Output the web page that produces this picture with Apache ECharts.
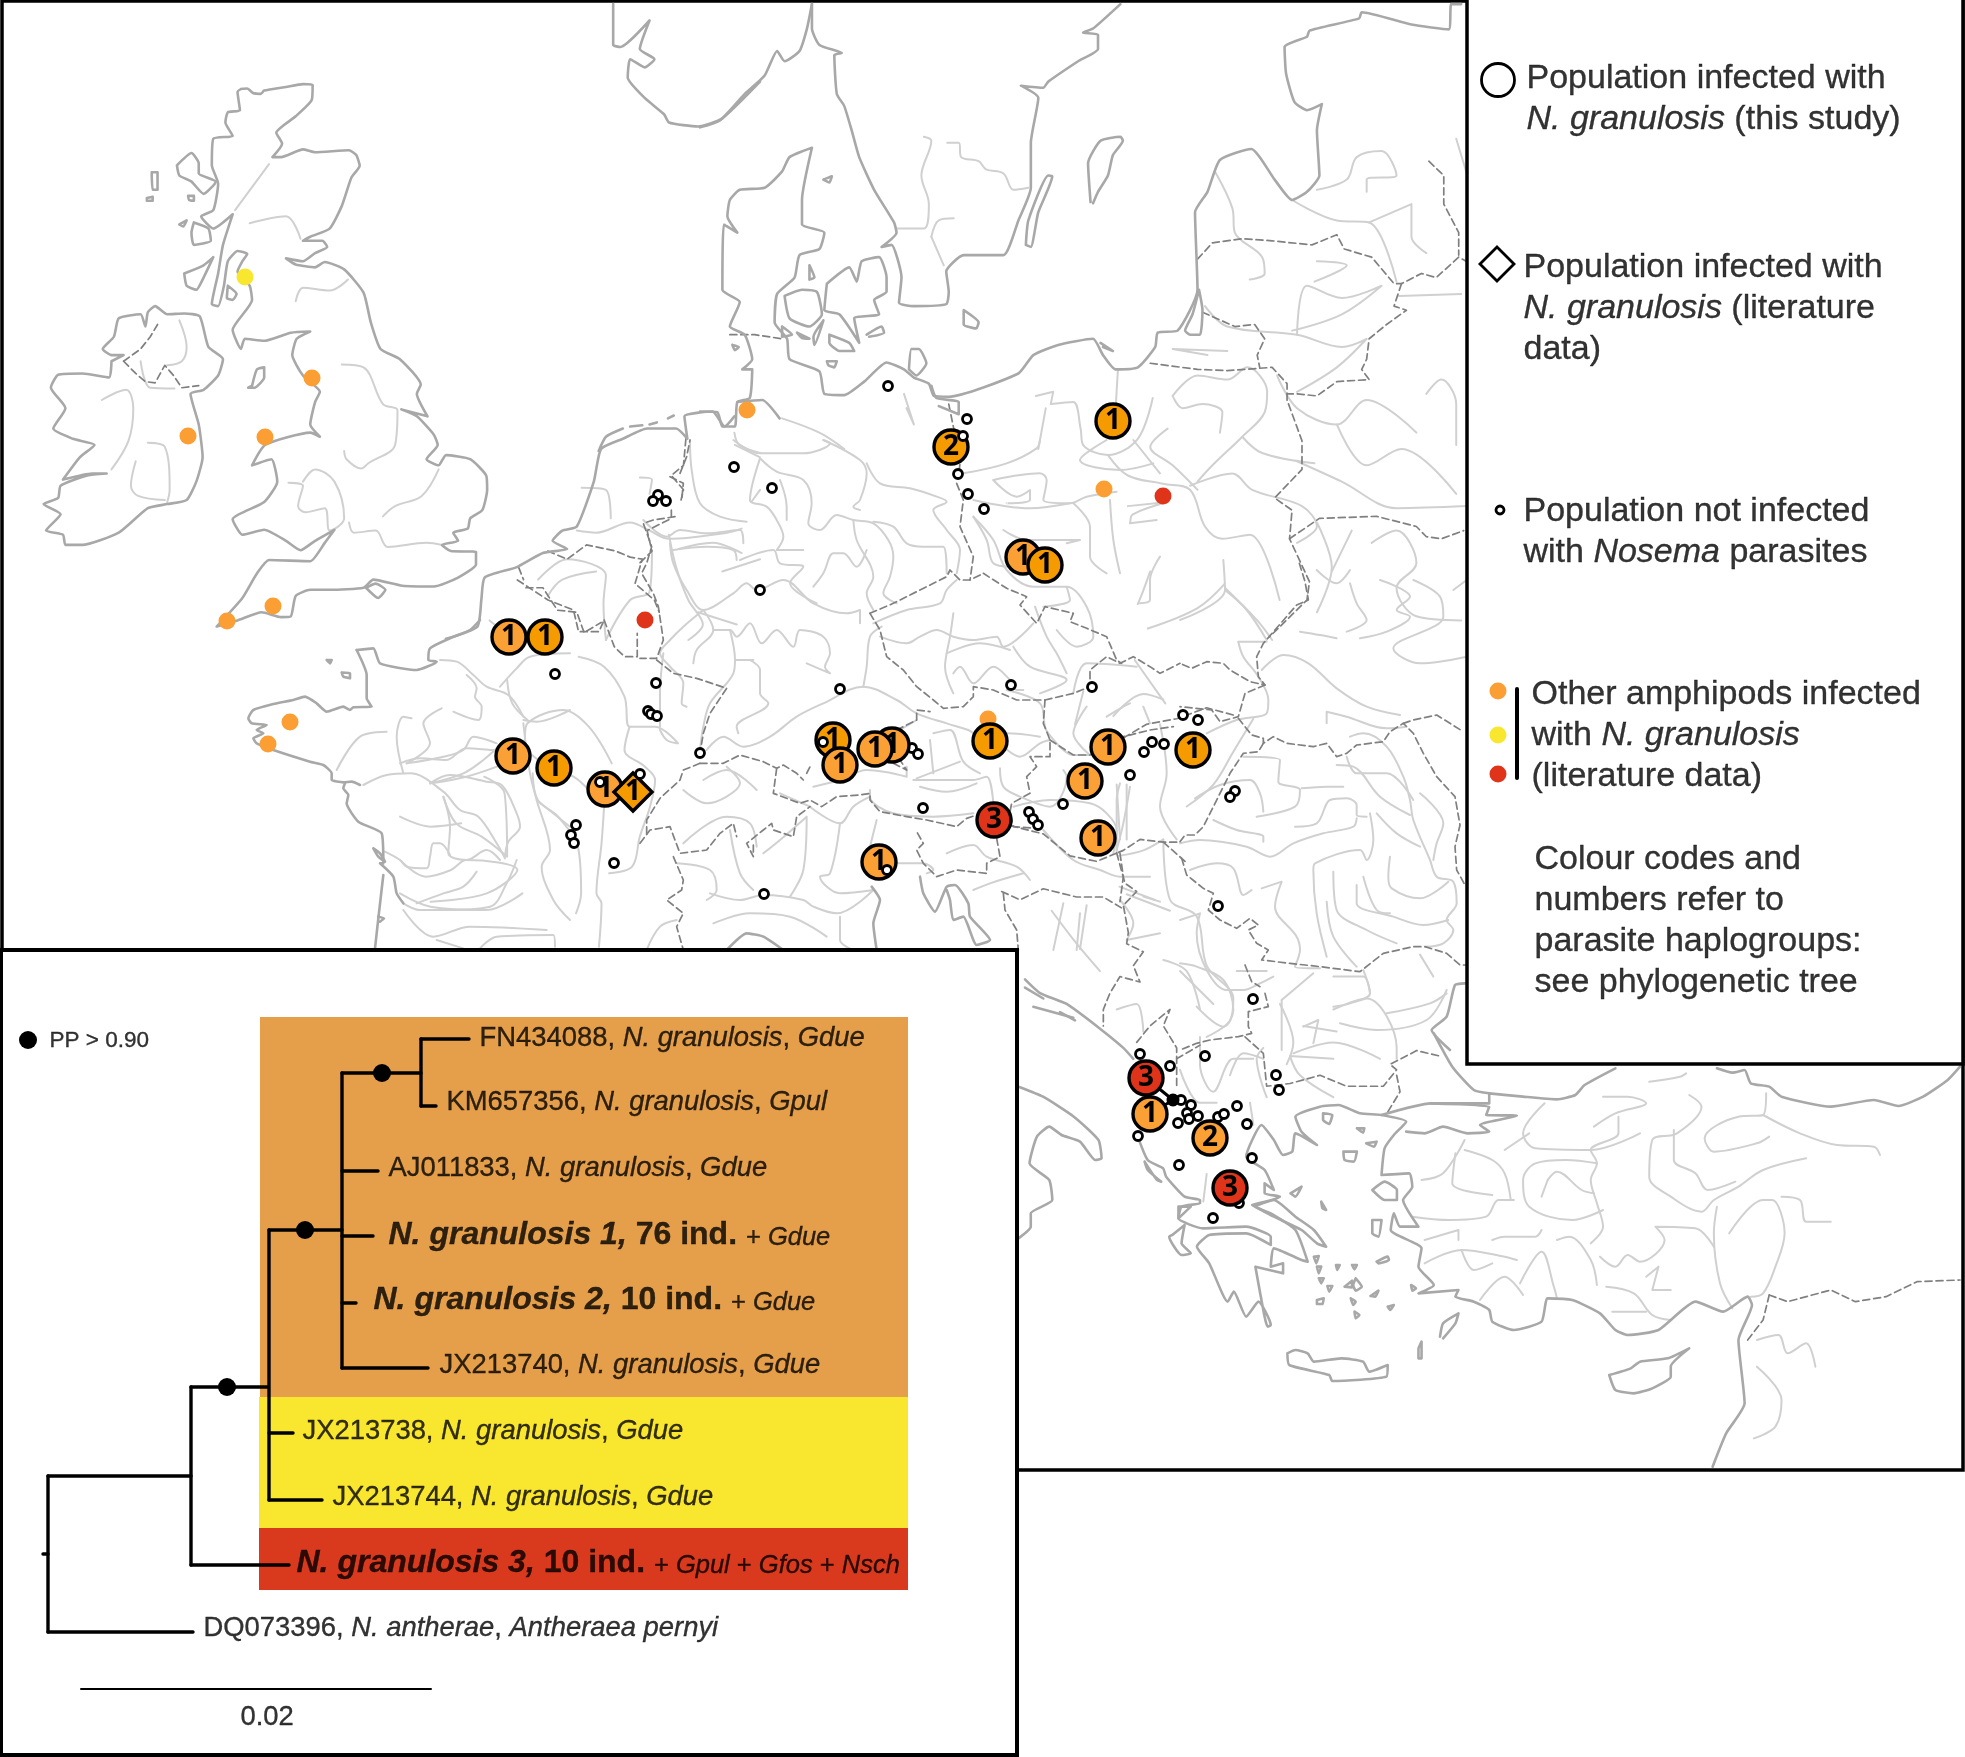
<!DOCTYPE html>
<html><head><meta charset="utf-8"><style>html,body{margin:0;padding:0;background:#fff}#c{width:1965px;height:1757px}</style>
<script src="https://cdn.jsdelivr.net/npm/echarts@6/dist/echarts.min.js"></script></head><body><div id="c"></div>
<script>
// Survey sheets: each traced group is read on a sheet with its own origin and scale to map units.
const A=[0,0,2.063,2.45],B=[700,0,2.01,2.45],C=[400,560,1.96,3],D=[1000,620,3,1.823],E=[1000,1000,1.625,3],F=[230,620,3,3],G=[1180,560,3,3],H=[640,440,3,3];

const coastBritainIreland=[
[497,218,510,217,522,228,538,230,545,222,590,213,625,206,645,208,643,245,610,285,570,325,582,352,562,385,580,385,625,366,650,373,720,368,735,380,742,406,725,435,705,505,680,560,640,580,625,590,665,590,675,605,650,620,625,640,590,633,610,648,650,655,670,642,710,660,750,717,765,790,785,855,825,880,868,942,860,965,882,1020,828,1003,860,1020,895,1065,903,1090,880,1125,905,1140,920,1115,970,1125,1003,1165,1005,1200,995,1250,970,1270,965,1295,935,1305,945,1325,912,1335,930,1350,982,1352,982,1383,945,1415,895,1437,830,1435,770,1420,750,1440,680,1445,640,1445,610,1460,600,1510,580,1512,540,1500,490,1520,447,1535,500,1465,530,1405,555,1372,640,1375,670,1330,690,1298,650,1325,620,1348,590,1325,545,1298,500,1310,480,1272,545,1230,572,1180,560,1125,520,1140,547,1090,640,1060,660,1070,640,1040,650,985,660,960,625,920,603,870,612,830,640,812,600,815,545,835,505,830,497,855,480,808,520,735,515,700,490,665,500,640,510,622,490,615,470,640,462,700,450,750,437,745,450,670,460,600,480,525,440,560,415,530,440,515,450,450,437,405,440,340,480,333,465,300,470,275,495,270,490,225,497,218],
[380,670,420,650,440,630,420,680,405,710,385,700,380,670],[400,545,430,560,435,590,400,600,395,570,400,545],[365,405,395,375,410,400,410,425,445,445,420,475,395,445,370,430,365,405],[313,422,325,422,325,465,315,465,313,422],[303,485,315,482,315,492,303,492,303,485],[388,480,400,480,400,492,390,490,388,480],[470,700,488,720,480,735,468,730,470,700],[520,945,530,905,545,900,545,925,525,950,512,950,520,945],[370,550,385,540,378,555,370,550],
[230,885,255,870,230,870,212,855,235,825,245,780,290,770,300,800,305,765,320,750,345,770,380,768,412,775,430,850,460,880,450,920,420,955,393,965,410,1040,418,1120,405,1180,385,1225,345,1235,305,1245,245,1305,170,1335,135,1335,130,1310,95,1300,125,1260,90,1235,120,1220,125,1190,180,1165,220,1160,190,1160,130,1175,165,1120,195,1090,150,1075,110,1050,135,1000,105,950,120,918,170,915,225,925,230,885],
[755,1440,775,1430,795,1445,780,1465,755,1440],
[1265,10,1265,110,1280,115,1340,50,1320,120,1350,145,1330,165,1300,145,1295,190,1330,240,1370,280,1380,300,1440,310,1490,290,1568,200]];
const coastLowCountries=[
[920,1565,985,1535,993,1470,1000,1415,1065,1390,1120,1355,1170,1345,1140,1325,1160,1300,1190,1290,1225,1180,1240,1100,1285,1075,1335,1050,1395,1050,1418,1075,1412,1020,1470,1008,1495,1045,1515,1020],
[1235,1105,1250,1070,1285,1050],[1300,1045,1325,1042],[1340,1040,1355,1035],[1378,1025,1390,1018]];
const coastNorth=[
[0,1008,35,1010,45,1045,70,1045,75,985,100,975,105,905,85,905,105,880,90,820,60,800,80,740,45,710,48,550,75,570,55,530,60,490,80,465,130,460,165,420,180,385,225,362,205,490,205,550,250,570,240,610,200,625,190,680,155,720,150,790,175,830,180,880,240,910,250,965,290,968,330,935,375,888,410,905,430,925,460,940,470,970,500,972,640,915,670,870,720,845,790,830,810,870,835,905,880,900,915,850,920,815,960,810,1000,710,995,520,1020,470,1045,392,1108,365,1155,440,1190,490,1220,470,1245,430,1240,320,1250,255,1220,270,1195,250,1178,180,1175,115,1220,90,1225,75,1325,45,1330,30,1430,60,1505,72,1510,10,1530,10],
[75,985,125,980,160,1025],[1003,710,990,770,975,810,985,820,1005,820,1010,760,1003,710],[805,840,830,860,810,850],[420,905,425,855,440,855,455,890,435,920,420,905],[465,945,475,975,520,985,520,1015,480,995],
[225,10,225,70,240,110,285,130,270,135,275,230,290,260,305,320,320,385,350,465,390,545,395,570,365,605,385,600,405,680,400,742,430,750,495,745,500,715,495,665,530,625,610,625,640,540,665,460,665,350,680,240,645,210,690,215,700,200,760,150,800,120,800,85,770,80,790,70,845,10],
[0,312,40,295,90,230,130,185,155,125,170,150,200,125,215,70,225,10],
[255,695,300,655,315,690,325,640,360,630,375,680,375,715,350,735,360,770,310,780,320,840,280,770,250,760,255,695],[170,725,205,710,235,715,245,770,220,800,180,780,170,725],[260,820,300,840,310,860,280,860,260,840,260,820],[165,800,185,820,165,825,165,800],[195,815,220,830,205,828,195,815],[248,785,230,845,228,825,248,785],[335,820,365,800,370,815,340,825],[255,885,275,885,270,900,258,895,255,885],
[530,760,560,790,555,805,530,795,530,760],[655,600,660,540,700,430,708,432,680,520,665,605,655,600],[785,495,780,400,805,345,845,335,850,345,830,380,820,430,800,470,790,498],[248,440,265,432,260,447,248,440],[220,650,230,680,220,685,220,650],[65,845,78,850,70,858,65,845]];
const coastFrance=[
[380,90,430,85,450,130,560,150,620,125,595,120,600,85,660,55,720,30,750,0],
[380,90,410,165,410,235,425,260,370,262,360,270,340,260,290,275,260,250,225,230,190,240,130,252,70,270,55,295,65,310,110,315,80,330,100,340,70,355,80,370,130,390,240,425,280,435,305,460,305,480,340,487,365,485,390,495],
[345,490,340,505,355,525,350,550,385,605,455,640,460,730,450,730,490,770,500,820,520,850],[460,765,445,895,435,985],[430,685,450,700,465,725,445,710,430,685],[290,120,305,120,300,130,290,120],[335,158,360,160,360,175,340,170,335,158],[445,890,462,895,450,905]];
const coastCentralAdriatic=[[840,1310,850,1360,885,1415,920,1340,945,1335,985,1390,990,1430,1050,1500,1010,1515,970,1430,940,1440,930,1380,920,1350],[695,1340,720,1380,700,1450,710,1530],[260,1530,320,1480,370,1490,430,1530]];
const coastBalkan=[[75,655,120,680,200,700,300,745,370,780,400,800],[75,670,130,690],[100,705,220,725],[180,715,225,730]];
const coastAegeanTurkey=[
[222,400,240,480,265,505,270,530,300,590,325,600,325,610,295,620,290,655,330,685,400,680,440,710,440,735,400,700,340,705,320,740,340,790,370,905,380,875,400,950,420,905,440,975,435,980,430,950,415,800,460,820,460,790,440,800,445,745,490,780,500,785,480,690,440,640,415,620,455,590,430,580,430,550,445,570,430,510,400,470,425,375,445,420,460,465,475,455,480,400,515,435,490,395,480,350,520,320,550,315,585,340,620,345,660,365,640,405,625,445,620,525,665,520,670,560,655,600,680,680,650,680,640,640,635,690,685,745,680,800,705,855,680,880,745,870,740,890,770,905,795,930,800,965,835,990,880,965,890,895,930,900,975,940,1000,990,1020,1005,1070,990,1130,905,1175,935,1215,890,1222,915,1200,1020,1210,1210,1180,1300,1158,1400],
[620,345,700,310,795,310,795,280,850,290,905,298,935,285,950,255,1000,205],[705,100,735,200,770,270,795,280],[1165,205,1190,218,1210,210,1220,250,1250,260,1270,290,1350,320,1420,300,1460,318,1500,290,1540,240,1560,200],
[660,395,690,400,720,380,760,400,795,395,780,375,840,347,790,345,795,320,700,310],
[990,1125,1025,1105,1040,1085,1085,1075,1120,1045,1090,1100,1090,1130,1060,1165,1030,1180,1000,1170,990,1125],[467,1060,480,1050,500,1060,510,1085,555,1075,590,1085,600,1115,630,1095,628,1130,540,1143,535,1125,470,1095,467,1060],[715,1010,720,970,745,940,740,970,720,1015],[680,1045,685,1025,685,1075,680,1075,680,1045],[605,570,625,545,645,570,645,600,625,600,605,570],[605,660,620,660,615,710,605,700,605,660],[612,785,630,770,632,780,615,790,612,785],[410,615,445,600,480,650,510,690,530,740,515,730,490,690,445,650,410,615],
[30,260,70,290,120,350,160,420,165,475,155,480,130,425,100,405,80,380,60,410,48,490,80,540,85,600,50,640,50,680,30,715],
[235,485,255,540,262,545,240,510,235,485],[290,620,310,620,290,655,290,620],[280,705,300,675,295,730,310,760,295,765,275,710,280,705],
[525,340,540,345,535,372,525,360,525,340],[580,385,592,385,590,398,580,385],[595,430,612,425,608,440,595,430],[558,455,580,455,575,485,560,480,558,455],[472,580,490,560,480,590,472,580],[522,605,530,630,524,625,522,605],
[510,770,518,768,514,790,510,770],[515,800,522,800,518,820,515,800],[546,795,552,795,548,810,546,795],[572,795,580,795,576,808,572,795],[518,835,526,835,522,850,518,835],[532,858,540,858,535,875,532,858],[560,860,572,842,572,862,560,860],[578,835,588,860,578,872,574,855,578,835],[602,888,615,872,610,890,602,888],[515,900,526,895,524,912,515,912,515,900],[570,895,578,905,574,915,570,895],[576,935,584,945,578,955,576,935],[630,920,640,915,634,930,630,920],[668,855,676,865,670,872,668,855]];
const coastBlackSea=[[855,1270,825,1275,800,1370,755,1410,810,1470]];

const riversA=[[555,402,485,515],[515,547,590,530,620,585],[610,738,625,705,680,712,718,685],[705,893,750,900,790,990,820,1005,815,1090,760,1135,745,1148,715,1125,710,1105],[905,1150,870,1215,815,1240,790,1265],[595,1183,625,1190,615,1240,630,1255,670,1245,680,1300,710,1270,690,1180,650,1150,625,1180],[720,1280,730,1305,775,1300,800,1340,880,1330,912,1335],[210,980,260,955,275,1000,265,1080,230,1150],[305,1085,340,1095,350,1200,345,1230],[280,1130,270,1190,285,1215,340,1225],[370,785,385,850,375,885,345,895],[290,885,310,950,360,952],
[1190,1300,1230,1305,1300,1280,1340,1300,1380,1320,1500,1305,1530,1295],[1200,1195,1250,1200,1260,1270],[1320,1170,1345,1175,1340,1210],[1380,1310,1395,1390,1420,1470,1450,1530,1420,1568],[1400,1345,1470,1330,1530,1355],[1110,1420,1170,1370,1250,1410,1245,1480,1250,1568],[1010,1520,1050,1560],[1130,1460,1160,1420,1230,1400],[1515,1060,1525,1090,1568,1110],[1550,1230,1568,1200],[1490,1400,1568,1370],[1440,1500,1520,1530],[1250,1568,1300,1470,1340,1450,1345,1350]];
const riversB=[[165,1025,240,1060,290,1100],[70,1090,120,1120],[410,965,430,1040,415,1000],
[675,970,710,960,705,990,750,985,765,1050,770,1090,820,1115,880,1075,910,975],[695,1000,680,1100],[840,905,835,1010],[820,1115,860,1165,930,1185,985,1200,1015,1290,1050,1320,1105,1310,1165,1470],[985,1190,1070,1160,1110,1200,1210,1240,1240,1290,1200,1330],[860,1240,940,1230,870,1260,865,1280],[940,1050,905,1095,950,1140,1000,1200],[1055,1430,1000,1490,900,1540],[1055,1440,1120,1520,1150,1568],[905,1400,890,1450,880,1480],[950,970,1000,920,1060,930,1100,900,1140,960,1135,1010,1090,1070,1030,1140,1000,1180],[950,970,970,1000,1010,990,1050,1010,1045,1060],[1020,870,950,855,1060,860],[1090,1070,1130,1110,1235,1135],[1160,920,1200,1000,1280,1040,1340,980,1440,1060],[1280,1040,1340,1140,1410,1100,1520,1210],[1200,1130,1290,1180,1400,1245,1540,1240],[1240,1280,1270,1390,1240,1500],[1310,1300,1270,1400],[1350,1330,1400,1300,1440,1380,1400,1440,1440,1510,1530,1520],[1460,965,1490,930,1520,990,1520,1090],[1015,750,1060,800,1200,820,1290,850,1340,830,1280,900,1200,960],[1200,820,1220,700,1290,730,1370,700,1290,770,1190,810],[1240,640,1300,650,1235,690],[1405,725,1530,720],[1190,490,1280,540,1345,545,1400,690],[1520,340,1540,420],
[450,335,465,345,445,430,460,500,450,560,395,560],[497,350,520,350,525,385,560,395,575,415,610,425,630,465,660,460],[465,580,480,540,510,535],[465,580,490,650],[1035,420,1070,510,1075,570,1130,630,1135,670,1105,685],[1345,545,1430,500,1430,580,1460,620],[1240,465,1300,440,1320,385,1370,370,1400,430,1340,440,1340,470]];
const riversC=[[0,610,40,595,90,600,130,565,190,570,240,560,250,490,320,450,370,500,415,610],[60,670,130,650,190,620],[240,560,290,620,340,650,370,690],[350,290,400,320,440,410,450,500,500,500,545,550],[210,360,220,430,250,480],[400,740,395,850,385,1000,395,1030,390,1160],[450,500,440,570,480,620,500,660,490,740,470,830,455,920,410,940],[85,710,110,790,160,830,210,890,205,700,165,650],[260,640,270,720,310,770,350,870,355,1000,345,1060],[0,900,50,950,100,930,130,900,230,930,170,1000,60,1025],[0,1000,60,1040,170,1050,240,1000],[0,770,60,800,120,790],[1410,980,1480,1020],[1440,300,1500,430]];
const riversD=[[225,190,250,130],[340,175,430,135,490,145],[490,400,510,510,590,540,620,630,700,690,690,730,620,760],[355,430,430,420,490,400],[380,500,510,530],[155,530,230,590,300,640],[260,520,240,600],[490,620,560,640,600,710],[540,640,640,700],[350,710,410,700,430,750],[600,760,600,810,640,860,700,800,760,800],[710,640,800,640],[840,700,880,770,860,810],[1000,710,1100,690,1190,780,1190,800],[880,790,1000,770,1140,800],[1000,800,870,795,900,830,1000,870],[910,740,1010,750],[1260,610,1300,650],[1000,650,1090,650,1110,680],[540,820,600,880,650,880],[690,830,730,790,790,800],[610,1060,620,1010],[750,880,760,920],[800,870,770,800,790,780],[480,190,500,280,480,340,530,400],[350,300,360,400],[380,300,380,400],[560,340,640,300,700,240,760,180]];
const riversE=[[755,420,720,520,685,540],[755,450,800,480,820,520,830,600],[740,460,735,550,800,585],[860,400,820,450],[885,310,850,400,870,445,960,450,1040,400],[965,380,1000,340,1050,310,1020,290,980,290],[1005,350,1005,400,960,450,970,490,960,540,970,610,980,680,960,730],[970,490,920,480,870,490,850,540,860,620,930,660,980,630],[890,540,905,515,945,570,965,580],[890,540,880,590],[1115,220,1105,230,1055,245],[1120,285,1140,320,1100,400,1060,420,1055,530,1090,590,1140,635,1160,600,1200,560,1240,510,1310,475],[1245,280,1240,345,1200,350,1145,415,1160,455,1230,430,1250,410],[1240,345,1300,400,1360,435,1420,440,1430,465],[1095,390,1095,480,1130,520,1150,570,1195,545],[670,650,730,660,790,650,810,600,835,600],[690,720,745,690,745,720],[690,790,750,750,820,770,840,780],[750,750,770,810,800,790],[800,720,820,710,870,710,880,690],[780,900,820,830,850,885],[845,850,880,755,900,860,905,895],[905,720,925,710,960,780,970,855],[985,860,1030,880,1060,945,1090,960],[995,935,1050,935],[975,770,1000,800,1020,765,1040,785,1080,720,1065,680,1130,685,1160,740],[1050,830,1070,800,1060,870,1090,870],[1165,620,1160,700,1170,850,1190,925],[1185,700,1240,600,1255,600,1275,700,1260,800,1240,880,1220,890],[1270,590,1300,600,1310,665,1350,665],[1230,1020,1265,1005,1280,1060,1310,1030,1325,1100],[1230,1100,1270,1200,1260,1280,1225,1315]];
const riversF=[[400,495,470,465,540,460,640,515,690,570,745,590,800,670,825,715],[600,490,660,465,770,485,815,495,860,580,870,620,835,665,825,710],[640,530,660,620,655,700,710,720,770,690,810,720],[465,695,510,720,530,740,590,745,600,710,610,670,630,670,660,705],[320,450,390,350,470,335],[520,460,500,350,520,290,545,295],[530,430,600,370,580,310,635,265],[530,430,640,410,700,390,730,350,800,370],[600,490,700,460,760,420,800,385],[670,275,745,300,755,260,735,230,740,205,710,165],[880,310,900,460,920,540,960,690,935,740,970,840,1020,900],[880,300,920,305,1020,270],[920,540,1020,620],[520,850,570,870,640,870,780,860,830,790,860,720],[560,850,640,820,700,800,740,755],[520,870,610,950,720,920,950,930],[620,960,700,985],[750,985,800,950,970,945,975,980],[630,120,680,125,730,165,770,200,835,225,880,290],[810,200,860,145,900,110,1020,100]];
const riversG=[[130,0,135,90,0,180],[135,90,200,150,260,240],[175,245,260,245],[175,245,190,290,235,350,265,420,260,460,170,480,80,520],[245,330,310,285,385,310,470,385,560,440,660,465],[440,490,440,455,500,470,620,505,680,500],[510,530,550,520,620,560,670,650,690,720,700,780,750,900,770,950,820,965,830,1030,800,1080,820,1110,790,1150,735,1160],[470,615,520,620,600,710,690,765],[500,590,530,640,620,640,700,720],[590,760,650,820,720,860],[720,700,790,790,770,850,760,900],[190,590,300,600,295,665,360,690,345,740,230,770],[365,685,440,680,490,680],[45,715,120,675,210,660,240,700,250,755],[100,780,170,810,250,830,250,845],[0,850,60,840,200,860,270,890,340,850,430,820,520,800,530,775],[345,800,410,790,450,720,500,715,530,735,530,765,560,770],[570,760,580,840,560,900,540,870,405,910,400,930,410,1060,440,1190],[460,935,470,1050,560,1110,650,1150],[440,1025,460,1130,530,1220],[530,975,530,1030,640,1070,730,1095,805,1080],[550,950,590,1050,630,1060],[630,890,625,950,635,985,720,1015,805,965],[0,1080,60,1060,50,1120,80,1230,140,1290,190,1290,240,1270,280,1250],[30,930,110,910,160,925,190,1005,215,990],[245,985,305,965,285,1040,350,1130,360,1170,345,1220,420,1225],[305,1320,400,1240],[305,1320,305,1470],[370,1400,415,1380,400,1450],[480,1390,590,1410,740,1380,800,1290],[460,1340,510,1330,570,1300,550,1230],[620,1360,750,1330,800,1300],[0,1210,50,1220,130,1260,160,1350,130,1400,50,1340],[410,30,470,70,510,30],[510,70,530,130,560,180,500,215],[360,215,420,225,470,235],[600,60,690,110,650,150,690,170,620,215,540,235],[700,60,780,110,790,170,640,265,720,310,860,290],[860,60,820,90]];
const riversH=[[360,55,410,95,490,120,515,190,505,250,540,270,590,225,640,240,700,250,745,300,760,350,750,410,730,460,770,490],[150,0,155,90,180,190,240,230,320,245],[360,55,330,180,380,200,410,240,430,290,410,330,490,330],[420,120,440,200,440,240],[280,0,360,40,490,40,570,10,550,0],[550,0,660,60,680,100,660,180,640,200,660,210],[680,70,720,130,810,145,890,170,920,185,880,210,920,270,960,330,950,400],[640,240,650,300,700,410,680,460,700,510],[700,245,760,260,800,310,850,320,910,320,920,400],[680,330,650,380,610,340,580,340,550,400,520,440],[10,240,80,290,120,270,200,280,300,270,310,310],[100,330,200,320,280,330,290,360],[90,310,100,370,140,450,190,510,280,460,320,430,350,450,430,420,520,490,620,520,660,510,660,550],[300,360,400,330,420,370,490,380,450,430,530,490],[190,510,130,560,90,600,60,640,90,680,130,730,125,790,140,800],[220,570,270,570,290,590,330,550,365,610,410,570,460,620,480,570,550,590,570,640,555,680,570,700,500,670],[190,510,220,570,170,630,160,670],[270,570,285,660,280,700,210,790,190,860,180,930],[330,660,360,690,360,760,385,790,290,860,295,880],[285,660,340,660],[200,930,250,890,310,920,390,890,470,830,550,790,670,740,770,780,830,820,920,850,985,870,1000,880],[670,740,680,680,690,590,725,560],[700,550,800,510,900,490,920,450,950,420],[720,590,800,610,840,590,890,570,940,590,1000,600,1070,590,1090,620,1180,550],[940,520,930,590,920,640,915,680,940,760],[940,700,960,680,1000,730,1060,680,1110,720,1130,750,1150,750],[1120,620,1170,680,1280,720,1200,760],[920,640,1020,610,1110,630],[1100,750,1200,790,1215,860,1225,880,1270,930,1300,945,1360,945],[1185,500,1220,590,1250,640,1280,700],[1000,230,1060,300,1100,390,1180,440,1280,440,1340,500,1360,590,1310,620,1250,570],[1280,440,1290,480,1210,500],[970,100,1100,70,1190,25,1200,0],[1060,120,1200,100,1220,120,1210,180,1290,190,1340,170,1430,155],[1060,120,1130,170,1170,150,1170,180,1100,190],[1000,180,1170,205,1290,190],[1300,190,1350,260,1350,350,1400,400],[1410,180,1420,300,1440,400],[1540,70,1440,90,1320,60,1400,0],[1480,0,1560,100],[1470,250,1550,240],[1560,350,1530,420,1530,480,1500,490],[1000,230,1040,300,1060,370,1110,380],[1090,270,1160,300,1320,300,1280,310],[780,870,830,840],[880,880,930,870,970,965,1020,1000],[870,900,880,1000],[830,1015,960,965],[820,1020,1000,1020,1040,1010,1060,1090],[840,1040,920,1055,1010,1030],[1080,985,1090,1040,1140,1070,1230,1100,1280,1010,1270,990],[1120,1100,1230,1080,1350,1090,1400,1120,1430,1170,1420,1240],[1340,800,1300,880,1350,945],[1400,830,1450,800,1470,790],[1440,1030,1430,1080,1430,1200,1430,1240],[1470,1040,1450,1150,1430,1230],[1300,760,1340,670,1490,680],[1510,800,1530,850],[1000,890,1100,880,1200,890],[1080,910,1140,950,1200,910,1230,900],[520,1040,600,1020,680,990,800,1010,800,980],[690,1050,690,1070,760,1120,880,1130,1000,1120],[510,1100,600,1150,640,1100,690,1070],[600,1150,570,1300,540,1310,600,1360,700,1350],[710,1140,690,1220],[760,1270,850,1270,880,1290,860,1300],[920,1240,1000,1215,1040,1250,1130,1280,1170,1320],[1000,1350,1050,1330,1150,1300],[1210,1170,1300,1260,1380,1290,1440,1310,1530,1310],[210,1360,300,1380,370,1365,490,1380,520,1400,590,1420,700,1350],[110,1270,210,1290,230,1350,200,1380],[270,1170,300,1300,340,1350],[370,1240,420,1200,500,1130,490,1290,450,1370],[130,1210,260,1130,330,1150,350,1220],[130,1050,200,1090,260,1070,300,1030,260,980],[190,1020,260,990,350,1050],[510,1100,420,1060],[220,1450,330,1420,450,1430,560,1490],[110,1440,60,1460,20,1530],[600,1430,600,1500,640,1530],[60,870,80,900,110,910],[70,640,60,760,60,860],[1240,1530,1270,1390],[1320,1420,1310,1530],[1440,1380,1480,1450,1460,1500,1560,1480],[1510,1370,1560,1385]];

const bordersA=[[255,885,280,915,300,935,320,938,340,895,358,920,375,950,410,945],[255,885,290,855,310,825,325,795],[1070,1390,1080,1420],[1085,1440,1120,1440,1150,1495,1190,1500,1205,1550,1240,1525],[1130,1350,1170,1370,1210,1335,1270,1350,1300,1365,1325,1370,1310,1430,1350,1470,1360,1500],[1415,1075,1410,1140,1385,1165,1410,1200,1405,1225],[1385,1250,1385,1270,1335,1300,1345,1350,1315,1385]];
const bordersB=[[905,890,1000,905,1060,908,1150,900,1180,940,1180,980,1210,1080,1210,1150,1155,1220,1190,1250,1185,1320,1225,1425,1220,1470,1145,1560],[1010,765,1075,800,1115,795,1135,830,1120,870,1125,900],[1000,635,1030,595,1090,585,1150,590,1230,600,1280,575,1295,610,1350,630,1395,695,1410,695,1450,670,1480,680,1525,630,1540,640],[1465,395,1495,430,1495,500,1525,570,1525,625],[1410,695,1395,750,1420,760,1380,795,1345,830,1340,880,1330,905,1345,930,1280,935,1240,970,1200,965,1180,965],[1185,1320,1245,1270,1360,1265,1440,1290,1460,1315,1490,1320,1535,1300],[60,820,110,820,165,830],[500,990,510,1050,530,1070,520,1160]];
const bordersC=[[230,60,250,80,290,120,340,150,350,215,390,215,400,180],[400,180,420,260,440,290,465,290,465,220]];
const bordersD=[[5,495,60,510,130,490,230,505,310,505,365,525,370,520],[0,370,130,390,210,430,290,440,350,425],[350,425,375,480,410,495,370,520,385,570,380,590,430,605,400,630,420,660,360,650,330,680,310,710,310,740],[410,770,450,740,510,710,490,740,530,780,530,800,530,850],[530,800,600,775],[735,760,790,790,800,850,870,845,960,830,1040,850,1150,850,1190,820,1170,810,1250,785,1320,795],[1190,830,1200,860,1160,900],[370,215,440,190,530,180,620,160,710,175],[530,405,490,405,420,400,370,420,350,425],[490,405,555,440]];
const bordersE=[[1250,885,1280,905,1350,870,1390,905,1440,890,1490,845,1560,840],[1250,885,1240,960,1215,1020]];
const bordersG=[[358,10,375,65,385,120,350,135,250,250,230,290,235,350,255,375,210,365,150,330,130,310,80,305,35,325,0,310],[255,375,195,400,175,470,120,485,95,450,0,440],[175,475,215,525,250,535,250,550,280,530,320,550,400,560,440,550,470,590,500,580,530,555,610,545,630,515,670,490,700,520,730,580,770,650,825,710,840,795,825,860,830,930,855,975],[670,490,700,480,770,465,850,515],[250,550,235,575,190,580,150,640,125,690,100,740,70,800,45,825,15,825,0,845],[5,895,20,945,70,985,100,1000,85,1050,120,1080,170,1105,210,1075,235,1095,205,1110,230,1150,265,1170,245,1200,330,1210,420,1220,540,1235,610,1180,700,1160,735,1160,800,1180,840,1215,860,1215],[195,1215,215,1265,240,1280],[255,1300,265,1340,205,1355,205,1400,215,1420,175,1430,90,1440,50,1450,0,1470]];
const bordersH=[[120,100,140,50,150,0],[90,110,130,130,125,180],[105,230,40,240,10,250,35,320,20,370,5,400,40,460,55,500,70,600,50,655,0,655],[50,660,100,700,170,715,260,745,210,820,190,880,180,940],[180,970,250,970,300,945,370,965,410,985,430,975,470,1000,490,1020],[500,1000,510,980],[550,980,580,970],[410,985,400,1060,480,1090,510,1080,545,1100,590,1070,660,1065,690,1060,690,1080,720,1115,800,1130,860,1140,950,1160,980,1135,1010,1125],[770,870,830,840,830,810,870,815],[760,970,800,990,780,960],[690,520,720,570,730,610,740,650,790,690,830,740,880,780,910,805,970,800,1000,770,1000,740,1060,750,1130,780,1215,780],[1215,780,1300,760,1350,740,1350,690,1400,650,1440,670,1480,650,1530,680,1560,700,1620,670],[690,520,760,490,840,450,920,410,930,390,960,420,990,420,1030,400],[950,130,970,180,960,260,1000,350,990,420],[1030,400,1100,445,1160,470,1140,495,1190,550,1215,500,1300,520,1290,545,1340,565,1400,590,1430,660,1445,670],[1215,780,1210,850,1230,900,1230,950,1170,950,1190,980,1160,1010,1170,1060,1115,1090,1110,1115,1120,1160,1190,1165],[1230,900,1300,945,1350,945,1450,890,1530,870,1600,860],[1070,1195,1080,1250,1040,1270,1040,1300,950,1290,890,1310,850,1270,830,1230,850,1210,830,1175],[1090,1360,1095,1410,1130,1470,1135,1530],[1440,1240,1450,1310,1440,1385],[0,1210,30,1170,90,1160,120,1240,200,1230,240,1180,280,1150,290,1190],[340,1215,340,1250,320,1210,370,1170,395,1150,400,1170,460,1190,470,1130,510,1100],[100,1250,130,1320,125,1350,80,1380,130,1420,110,1460,130,1530],[180,970,130,990,120,1020,60,1075,20,1140,20,1190]];

// Sampling sites in map units
const sitesNotInfected=[[1140,1054],[1170,1066],[1205,1056],[1276,1075],[1279,1090],[1181,1100],[1191,1105],[1187,1113],[1189,1119],[1198,1116],[1178,1123],[1218,1117],[1224,1114],[1237,1106],[1247,1124],[1138,1136],[1179,1165],[1252,1158],[1239,1203],[1213,1218],[1011,685],[1092,687],[1183,715],[1198,720],[1152,742],[1164,744],[1144,752],[1130,775],[1235,791],[1230,797],[1063,804],[1029,812],[1033,819],[1038,825],[1218,906],[1253,999],[760,590],[555,674],[656,683],[648,711],[651,714],[657,716],[840,689],[700,753],[912,748],[918,754],[576,825],[571,835],[574,843],[614,863],[764,894],[923,808],[888,386],[967,419],[958,474],[968,494],[984,509],[734,467],[772,488],[658,495],[653,501],[666,501]];
const sitesNotInfectedOver=[[823,742],[963,436],[600,782],[640,774],[887,870]];
const otherOrange=[[312,378],[188,436],[265,437],[273,606],[227,621],[747,410],[1104,489],[290,722],[268,744],[988,719]];
const otherYellow=[[245,277]];
const otherRed=[[645,620],[1163,496]];
const haplo1Light=[[509,637],[513,756],[605,789],[892,745],[875,749],[1108,747],[1085,781],[1098,838],[879,862],[1023,557],[1150,1114],[840,765]];
const haplo1Dark=[[545,637],[554,768],[990,741],[1193,750],[1113,421],[1045,565]];
const haplo1DarkUnder=[[833,740]];
const haplo1Diamond=[[633,792]];
const haplo2Dark=[[951,447]];
const haplo2Light=[[1210,1138]];
const haplo3=[[994,820],[1146,1078],[1230,1188]];
const leaderLines=[[1146,1078,1173,1100,1150,1114]];
const junction=[[1173,1100]];

// Tree
const orangeClade=[260,1017,908,1397],yellowClade=[259,1397,908,1528],redClade=[259,1528,908,1590];
const treeBranches=[[48,1476,48,1632],[43,1554,48,1554],[48,1476,191,1476],[48,1632,193,1632],[191,1387,191,1565],[191,1387,268,1387],[191,1565,289,1565],[269,1230,269,1500],[269,1230,342,1230],[269,1433,293,1433],[269,1500,322,1500],[342,1073,342,1368],[342,1073,421,1073],[342,1171,378,1171],[342,1236,373,1236],[342,1303,356,1303],[342,1368,428,1368],[421,1039,421,1106],[421,1039,469,1039],[421,1106,436,1106]];
const scaleBar=[[81,1689,431,1689]];
const supportNodes=[[227,1387],[305,1230],[382,1073],[28,1040]];
const treeLabels=[
[479,1038,'FN434088, {i|N. granulosis}, {i|Gdue}'],[446,1102,'KM657356, {i|N. granulosis}, {i|Gpul}'],[388,1168,'AJ011833, {i|N. granulosis}, {i|Gdue}'],[439,1365,'JX213740, {i|N. granulosis}, {i|Gdue}'],[302,1431,'JX213738, {i|N. granulosis}, {i|Gdue}'],[332,1497,'JX213744, {i|N. granulosis}, {i|Gdue}'],[203,1628,'DQ073396, {i|N. antherae}, {i|Antheraea pernyi}']];
const cladeLabels=[
[388,1235,'{bi|N. granulosis 1,} {b|76 ind.} {s|+ }{si|Gdue}'],[373,1300,'{bi|N. granulosis 2,} {b|10 ind.} {s|+ }{si|Gdue}'],[296,1563,'{bi|N. granulosis 3,} {b|10 ind.} {s|+ }{si|Gpul}{s| + }{si|Gfos}{s| + }{si|Nsch}']];
const legendLabels=[
[1526,79,'Population infected with'],[1526,120,'{i|N. granulosis} (this study)'],
[1523,268,'Population infected with'],[1523,309,'{i|N. granulosis} (literature'],[1523,350,'data)'],
[1523,512,'Population not infected'],[1523,553,'with {i|Nosema} parasites'],
[1531,695,'Other amphipods infected'],[1531,736,'with {i|N. granulosis}'],[1531,777,'(literature data)'],
[1534,860,'Colour codes and'],[1534,901,'numbers refer to'],[1534,942,'parasite haplogroups:'],[1534,983,'see phylogenetic tree']];
const keyRing=[[1498,80]],keyDiamond=[[1497,264]],keySmall=[[1500,510]],keyOrange=[[1498,691]],keyYellow=[[1498,735]],keyRed=[[1498,774]],keyBar=[[1517,689,1517,778]];
const ppLabel=[[49,1041,'PP > 0.90']],scaleLabel=[[240,1717,'0.02']];
const mapFrame=[2,1,1963,1470],legendPanel=[1467,-3,1963,1064],insetPanel=[1,950,1017,1755];

const FONT='"Liberation Sans"';
const toPts=(s,p)=>{const o=[];for(let i=0;i<p.length;i+=2)o.push(s?[s[0]+p[i]/s[2],s[1]+p[i+1]/s[3]]:[p[i],p[i+1]]);return o;};
const sheet=(s,polys)=>polys.map(p=>toPts(s,p));
const plain=(polys)=>polys.map(p=>toPts(null,p));
const lineSeries=(polys,color,width,z,type)=>({type:'lines',coordinateSystem:'cartesian2d',polyline:true,silent:true,z,data:polys.map(c=>({coords:c})),lineStyle:{color,width,type:type||'solid',opacity:1,cap:'round',join:'round'},effect:{show:false}});
const smoothSeries=(polys,color,width,z,smooth)=>polys.map(c=>({type:'line',data:c,smooth,symbol:'none',silent:true,z,lineStyle:{color,width,cap:'round',join:'round'},emphasis:{disabled:true},animation:false}));
const dots=(data,size,fill,z,extra)=>Object.assign({type:'scatter',data,symbol:'circle',symbolSize:size,silent:true,z,itemStyle:{color:fill,opacity:1},emphasis:{disabled:true}},extra||{});
const ring=(data,size,fill,z,lw,sym)=>dots(data,size,fill,z,{symbol:sym||'circle',itemStyle:{color:fill,borderColor:'#000',borderWidth:lw,opacity:1}});
const numbered=(data,fill,n,z,sym,sz)=>{const s=ring(data,sz||34,fill,z,3.4,sym);s.label={show:true,position:'inside',formatter:n,color:'#000',fontFamily:'"Open Sans"',fontWeight:700,fontSize:28,lineHeight:28};return s;};
const rect=(box,fill,stroke,lw,z)=>({type:'custom',silent:true,z,clip:false,data:[box],renderItem:(p,api)=>{const a=api.coord([api.value(0),api.value(1)]),b=api.coord([api.value(2),api.value(3)]);return{type:'rect',shape:{x:a[0],y:a[1],width:b[0]-a[0],height:b[1]-a[1]},style:{fill,stroke,lineWidth:lw}};},encode:{x:[0,2],y:[1,3]}});
const INK={color:'#000',textBorderColor:'#000',textBorderWidth:0.35};
const texts=(data,fontSize,z,rich)=>({type:'scatter',data,symbolSize:1,silent:true,z,itemStyle:{color:'transparent'},emphasis:{disabled:true},
 label:Object.assign({show:true,position:'right',distance:0,formatter:p=>p.value[2],fontFamily:FONT,fontSize,rich},INK)});

const treeRich={i:Object.assign({fontFamily:FONT,fontStyle:'italic',fontSize:27.4},INK)};
const cladeRich={bi:Object.assign({fontFamily:FONT,fontStyle:'italic',fontWeight:'bold',fontSize:32},INK),b:Object.assign({fontFamily:FONT,fontWeight:'bold',fontSize:32},INK),s:Object.assign({fontFamily:FONT,fontSize:25.5,padding:[5,0,0,0]},INK),si:Object.assign({fontFamily:FONT,fontStyle:'italic',fontSize:25.5,padding:[5,0,0,0]},INK)};
const legendRich={i:Object.assign({fontFamily:FONT,fontStyle:'italic',fontSize:34},INK)};

const COAST='#A8A8A8',RIVER='#D0D0D0',BORDER='#808080',LIGHT='#FBA035',DARK='#F59B00',RED='#E0341A',YEL='#F9E72F',ORN='#FB9E33';
const coasts=[].concat(sheet(A,coastBritainIreland),sheet(A,coastLowCountries),sheet(B,coastNorth),sheet(F,coastFrance),sheet(H,coastCentralAdriatic),sheet(D,coastBalkan),sheet(E,coastAegeanTurkey),sheet(G,coastBlackSea));
const rivers=[].concat(sheet(A,riversA),sheet(B,riversB),sheet(C,riversC),sheet(D,riversD),sheet(E,riversE),sheet(F,riversF),sheet(G,riversG),sheet(H,riversH));
const borders=[].concat(sheet(A,bordersA),sheet(B,bordersB),sheet(C,bordersC),sheet(D,bordersD),sheet(E,bordersE),sheet(G,bordersG),sheet(H,bordersH));

const chart=echarts.init(document.getElementById('c'),null,{renderer:'canvas',width:1965,height:1757});
chart.setOption({animation:false,backgroundColor:'#fff',tooltip:{show:false},
 grid:{left:0,right:0,top:0,bottom:0,containLabel:false},
 xAxis:{type:'value',min:0,max:1965,show:false},yAxis:{type:'value',min:0,max:1757,inverse:true,show:false},
 series:[].concat(
  rect(mapFrame,'#fff','#000',3.5,1),
  smoothSeries(rivers,RIVER,2,2,0.35),
  lineSeries(borders,BORDER,1.7,3,[7,4]),
  smoothSeries(coasts,COAST,2.6,4,0.18),
  dots(otherOrange,17,ORN,5),dots(otherYellow,17,YEL,5),dots(otherRed,17,RED,5),
  ring(sitesNotInfected,9,'#fff',6,2.8),
  lineSeries(plain(leaderLines),'#000',3,7),dots(junction,13,'#000',7),
  numbered(haplo1DarkUnder,DARK,'1',7),
  numbered(haplo1Light,LIGHT,'1',8),numbered(haplo1Dark,DARK,'1',9),numbered(haplo1Diamond,DARK,'1',9,'diamond',38),
  numbered(haplo2Dark,DARK,'2',9),numbered(haplo2Light,LIGHT,'2',9),numbered(haplo3,RED,'3',9),
  ring(sitesNotInfectedOver,9,'#fff',10,2.8),
  rect(legendPanel,'#fff','#000',3.5,20),rect(insetPanel,'#fff','#000',4,20),
  rect(orangeClade,'#E59F4A',null,0,21),rect(yellowClade,'#F9E62E',null,0,21),rect(redClade,'#D93A1E',null,0,21),
  lineSeries(plain(treeBranches),'#000',3.4,22),lineSeries(plain(scaleBar),'#000',2,22),
  dots(supportNodes,18,'#000',23),
  texts(treeLabels,27.4,24,treeRich),texts(cladeLabels,32,24,cladeRich),
  texts(ppLabel,22.5,24,{}),texts(scaleLabel,27.4,24,{}),
  ring(keyRing,33,'#fff',24,2.8),ring(keyDiamond,34,'#fff',24,2.8,'diamond'),ring(keySmall,8,'#fff',24,2.8),
  dots(keyOrange,17,ORN,24),dots(keyYellow,17,YEL,24),dots(keyRed,17,RED,24),
  lineSeries(plain(keyBar),'#000',4,24),
  texts(legendLabels,34,24,legendRich)
 )});
</script></body></html>
